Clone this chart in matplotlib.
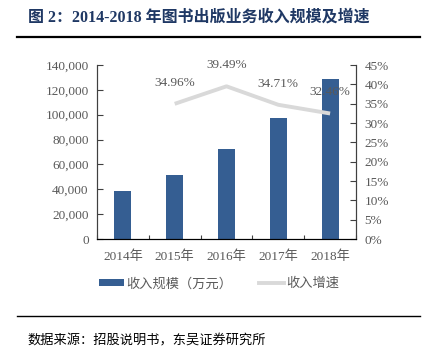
import matplotlib
matplotlib.use("Agg")
import matplotlib.pyplot as plt
from matplotlib.ticker import FuncFormatter, FixedLocator
from matplotlib.patches import Patch
from matplotlib.lines import Line2D

plt.rcParams['font.family'] = ['Liberation Serif', 'Noto Sans CJK SC', 'DejaVu Sans']

years = ["2014年", "2015年", "2016年", "2017年", "2018年"]
revenue = [38300, 51700, 72200, 97200, 128800]          # 万元
growth_years = [1, 2, 3, 4]                              # index into years
growth = [34.96, 39.49, 34.71, 32.46]                    # %
growth_labels = ["34.96%", "39.49%", "34.71%", "32.46%"]

bar_color = "#355e92"
line_color = "#d9d9d9"
text_gray = "#595959"

fig = plt.figure(figsize=(4.26, 3.49), dpi=100)
ax = fig.add_axes([97/426, 1-239/349, (356-97)/426, (239-65)/349])
ax2 = ax.twinx()

x = list(range(len(years)))
ax.bar(x, revenue, width=0.33, color=bar_color, zorder=2)
ax.set_ylim(0, 140000)
ax.set_xlim(-0.5, 4.5)
ax.yaxis.set_major_locator(FixedLocator(range(0, 140001, 20000)))
ax.yaxis.set_major_formatter(FuncFormatter(lambda v, p: f"{int(v):,}"))

ax2.plot(growth_years, growth, color=line_color, lw=2.8, solid_capstyle='butt', zorder=3)
ax2.set_ylim(0, 45)
ax2.yaxis.set_major_locator(FixedLocator(range(0, 46, 5)))
ax2.yaxis.set_major_formatter(FuncFormatter(lambda v, p: f"{int(v)}%"))
for xi, g, lab in zip(growth_years, growth, growth_labels):
    ax2.annotate(lab, (xi, g), xytext=(0, 11), textcoords='offset points',
                 ha='center', va='bottom', color=text_gray, fontsize=9.5)

# x axis: boundary tick marks, category labels centred
ax.set_xticks([-0.5, 0.5, 1.5, 2.5, 3.5, 4.5])
ax.set_xticklabels([])
ax.set_xticks(x, minor=True)
ax.set_xticklabels(years, minor=True)
ax.tick_params(axis='x', which='major', direction='in', length=3, color='#404040')
ax.tick_params(axis='x', which='minor', length=0, pad=8, labelsize=9.5, labelcolor=text_gray)
ax.tick_params(axis='y', direction='in', length=4, color='#404040', labelsize=9.5,
               labelcolor=text_gray, pad=6)
ax2.tick_params(axis='y', direction='in', length=4, color='#404040', labelsize=9.5,
                labelcolor=text_gray, pad=6)

for a in (ax, ax2):
    a.spines['top'].set_visible(False)
    a.spines['left'].set_color('#404040')
    a.spines['right'].set_color('#404040')
    a.spines['bottom'].set_color('#000000')

handles = [Patch(facecolor=bar_color, edgecolor='none'),
           Line2D([0], [0], color=line_color, lw=2.8)]
fig.legend(handles, ["收入规模（万元）", "收入增速"], loc='center',
           bbox_to_anchor=(219/426, 1-284/349), ncol=2, frameon=False,
           fontsize=9.5, labelcolor=text_gray, handlelength=1.9, handleheight=0.45,
           handletextpad=0.2, columnspacing=2.0)

# title and rules
fig.text(28/426, 1-18/349, "图 2：2014-2018 年图书出版业务收入规模及增速",
         ha='left', va='center', fontsize=11.5, fontweight='bold', color="#1f3864")
fig.add_artist(Line2D([17/426, 420/426], [1-37/349, 1-37/349], color='black', lw=1.6))
fig.add_artist(Line2D([17/426, 420/426], [1-315.5/349, 1-315.5/349], color='black', lw=1.0))
fig.text(27/426, 1-341/349, "数据来源：招股说明书，东吴证券研究所",
         ha='left', va='center', fontsize=9.5, color='black')

fig.savefig("out.png", dpi=100)
